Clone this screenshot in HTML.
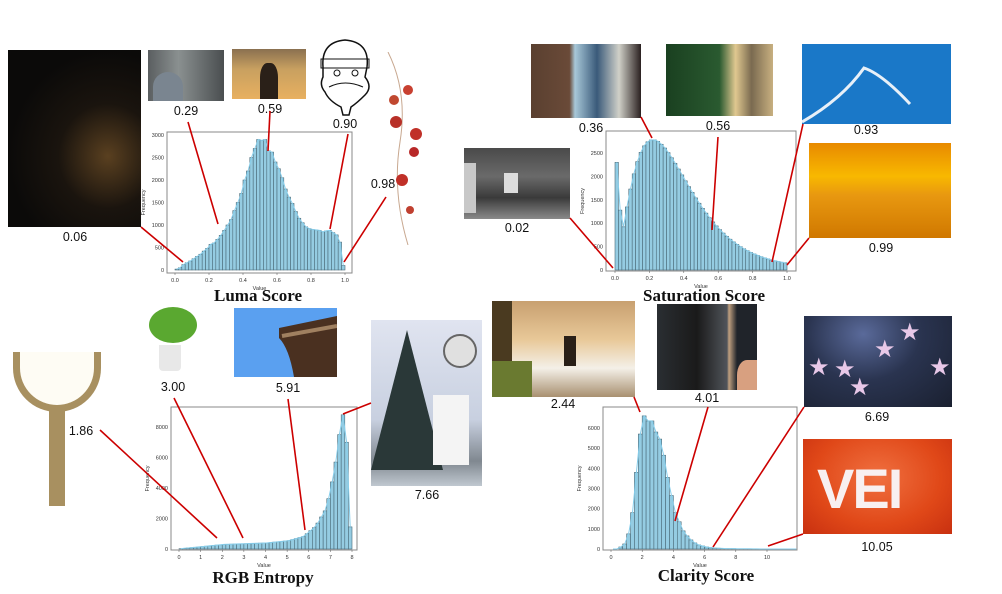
<!DOCTYPE html>
<html><head><meta charset="utf-8">
<style>
body{margin:0;background:#fff;width:1002px;height:594px;overflow:hidden;position:relative;font-family:"Liberation Sans",sans-serif}
.im{position:absolute;overflow:hidden}
.lb{position:absolute;font-size:12.5px;color:#111;transform:translateX(-50%)}
svg{position:absolute;left:0;top:0}
</style></head><body>
<div class="im" style="left:8px;top:50px;width:133px;height:177px;background:radial-gradient(ellipse at 75% 60%,#5a4020 0%,#1a140e 35%,#0b0a09 70%);"></div>
<div class="im" style="left:148px;top:50px;width:76px;height:51px;background:linear-gradient(90deg,#5a5e60,#8a9090 40%,#4a4e50);"><div style="position:absolute;left:5px;top:22px;width:30px;height:29px;border-radius:50% 50% 0 0;background:#7a8590"></div></div>
<div class="im" style="left:232px;top:49px;width:74px;height:50px;background:linear-gradient(180deg,#8a7050 0%,#c8a060 40%,#e8b060 100%);"><div style="position:absolute;left:28px;top:14px;width:18px;height:36px;background:#2a2018;border-radius:40% 40% 0 0"></div></div>
<div class="im" style="left:315px;top:37px;width:62px;height:80px;">
<svg width="62" height="80"><path d="M8 30 Q6 5 30 3 Q55 5 52 30 L50 40 Q58 50 50 58 Q42 66 36 70 L34 78 L28 78 L26 70 Q14 64 10 55 Q4 48 8 40 Z" fill="#fff" stroke="#111" stroke-width="1.5"/><rect x="6" y="22" width="48" height="9" fill="none" stroke="#111"/><circle cx="22" cy="36" r="3" fill="none" stroke="#111"/><circle cx="40" cy="36" r="3" fill="none" stroke="#111"/><path d="M14 50 Q30 42 48 50" fill="none" stroke="#111"/></svg></div>
<div class="im" style="left:378px;top:52px;width:54px;height:193px;">
<svg width="54" height="193"><path d="M10 0 Q30 40 22 90 Q14 140 30 193" fill="none" stroke="#c8a890" stroke-width="1"/><circle cx="30" cy="38" r="5" fill="#c84030"/><circle cx="16" cy="48" r="5" fill="#c04830"/><circle cx="18" cy="70" r="6" fill="#b83028"/><circle cx="38" cy="82" r="6" fill="#c03028"/><circle cx="36" cy="100" r="5" fill="#b82828"/><circle cx="24" cy="128" r="6" fill="#c03028"/><circle cx="32" cy="158" r="4" fill="#c04030"/></svg></div>
<div class="im" style="left:531px;top:44px;width:110px;height:74px;background:linear-gradient(90deg,#5a4030 0%,#6a4a38 35%,#a8c8d8 40%,#3a5a7a 60%,#d0d0c8 80%,#2a2020 100%);"></div>
<div class="im" style="left:666px;top:44px;width:107px;height:72px;background:linear-gradient(90deg,#1a4020 0%,#2a5a30 50%,#e0c890 65%,#7a6a50 80%,#c8b080 100%);"></div>
<div class="im" style="left:802px;top:44px;width:149px;height:80px;background:#1a78c8;"><svg width="149" height="80"><path d="M0 78 Q40 55 62 24 Q80 30 108 60" fill="none" stroke="#e8f0f8" stroke-width="3"/></svg></div>
<div class="im" style="left:809px;top:143px;width:142px;height:95px;background:linear-gradient(180deg,#e88a00 0%,#f8b800 35%,#e89810 55%,#d07800 100%);"></div>
<div class="im" style="left:464px;top:148px;width:106px;height:71px;background:linear-gradient(180deg,#4a4a4a 0%,#6a6a6a 40%,#3a3a3a 70%,#8a8a8a 100%);"><div style="position:absolute;left:0;top:15px;width:12px;height:50px;background:#c8c8c8"></div><div style="position:absolute;left:40px;top:25px;width:14px;height:20px;background:#ddd"></div></div>
<div class="im" style="left:143px;top:303px;width:59px;height:72px;"><div style="position:absolute;left:6px;top:4px;width:48px;height:36px;border-radius:50%;background:#5aa830"></div><div style="position:absolute;left:16px;top:42px;width:22px;height:26px;background:#e8e8e8;border-radius:0 0 4px 4px"></div></div>
<div class="im" style="left:234px;top:308px;width:103px;height:69px;background:#5aa0f0;"><svg width="103" height="69"><path d="M45 20 L103 8 L103 69 L60 69 Q55 40 45 30 Z" fill="#4a3020"/><path d="M48 28 L103 18" stroke="#a08060" stroke-width="4"/></svg></div>
<div class="im" style="left:371px;top:320px;width:111px;height:166px;background:linear-gradient(180deg,#e0e4f0 0%,#c8d0e0 60%,#808890 85%,#c0c8d0 100%);"><div style="position:absolute;left:0;top:10px;width:0;height:0;border-left:36px solid transparent;border-right:36px solid transparent;border-bottom:140px solid #2a3838"></div><div style="position:absolute;left:62px;top:75px;width:36px;height:70px;background:#f4f4f4"></div><div style="position:absolute;left:72px;top:14px;width:30px;height:30px;border-radius:50%;background:#e0e0e0;border:2px solid #666"></div></div>
<div class="im" style="left:13px;top:352px;width:88px;height:156px;"><div style="position:absolute;left:0;top:0;width:88px;height:60px;border:7px solid #a89060;border-top:none;border-radius:0 0 44px 44px;box-sizing:border-box;background:#fefcf4"></div><div style="position:absolute;left:36px;top:56px;width:16px;height:98px;background:#a89060"></div></div>
<div class="im" style="left:492px;top:301px;width:143px;height:96px;background:linear-gradient(180deg,#c8a070 0%,#e8c898 40%,#f4f0e8 70%,#a89070 100%);"><div style="position:absolute;left:0;top:0;width:20px;height:96px;background:#4a3a20"></div><div style="position:absolute;left:0;top:60px;width:40px;height:36px;background:#6a7a30"></div><div style="position:absolute;left:72px;top:35px;width:12px;height:30px;background:#2a2018"></div></div>
<div class="im" style="left:657px;top:304px;width:100px;height:86px;background:linear-gradient(90deg,#2a2e32 0%,#1a1a1a 40%,#50545a 70%,#c0a080 72%,#20242a 80%);"><div style="position:absolute;right:0;bottom:0;width:20px;height:30px;background:#d8a080;border-radius:50% 0 0 0"></div></div>
<div class="im" style="left:804px;top:316px;width:148px;height:91px;background:radial-gradient(ellipse at 40% 20%,#5a6a9a 0%,#2a3450 45%,#1a2030 100%);color:#e8c8e8;font-size:24px;line-height:24px">
<span style="position:absolute;left:70px;top:22px">★</span><span style="position:absolute;left:95px;top:5px">★</span><span style="position:absolute;left:4px;top:40px">★</span><span style="position:absolute;left:30px;top:42px">★</span><span style="position:absolute;left:45px;top:60px">★</span><span style="position:absolute;left:125px;top:40px">★</span></div>
<div class="im" style="left:803px;top:439px;width:149px;height:95px;background:radial-gradient(ellipse at 50% 40%,#f07040 0%,#e04818 60%,#c83010 100%);"><div style="position:absolute;left:14px;top:22px;font:bold 56px 'Liberation Sans',sans-serif;color:#f8f0f0;letter-spacing:-2px;line-height:56px">VEI</div></div>

<div class="lb" style="left:75px;top:230px">0.06</div>
<div class="lb" style="left:186px;top:104px">0.29</div>
<div class="lb" style="left:270px;top:102px">0.59</div>
<div class="lb" style="left:345px;top:117px">0.90</div>
<div class="lb" style="left:383px;top:177px">0.98</div>
<div class="lb" style="left:591px;top:121px">0.36</div>
<div class="lb" style="left:718px;top:119px">0.56</div>
<div class="lb" style="left:866px;top:123px">0.93</div>
<div class="lb" style="left:881px;top:241px">0.99</div>
<div class="lb" style="left:517px;top:221px">0.02</div>
<div class="lb" style="left:173px;top:380px">3.00</div>
<div class="lb" style="left:288px;top:381px">5.91</div>
<div class="lb" style="left:427px;top:488px">7.66</div>
<div class="lb" style="left:81px;top:424px">1.86</div>
<div class="lb" style="left:563px;top:397px">2.44</div>
<div class="lb" style="left:707px;top:391px">4.01</div>
<div class="lb" style="left:877px;top:410px">6.69</div>
<div class="lb" style="left:877px;top:540px">10.05</div>

<svg id="s" width="1002" height="594"></svg>
<script>
var S='';
function hist(o){
 var x0=o.x0,x1=o.x1,y0=o.y0,ymax=o.ymax,vmax=o.vmax;
 S+='<rect x="'+o.fx+'" y="'+o.fy+'" width="'+o.fw+'" height="'+o.fh+'" fill="#fff" stroke="#888" stroke-width="1"/>';
 var n=o.data.length,bw=(o.bx1-o.bx0)/n;
 var pts=[];
 for(var i=0;i<n;i++){var h=o.data[i]/vmax*(y0-ymax);var bx=o.bx0+i*bw;
  S+='<rect x="'+bx.toFixed(2)+'" y="'+(y0-h).toFixed(2)+'" width="'+bw.toFixed(2)+'" height="'+h.toFixed(2)+'" fill="#95cce2" stroke="#4a6a78" stroke-width="0.6"/>';
  pts.push((bx+bw/2).toFixed(1)+','+(y0-h).toFixed(1));}
 S+='<polyline points="'+pts.join(' ')+'" fill="none" stroke="#87ceeb" stroke-width="1"/>';
 o.xt.forEach(function(t,i){var x=x0+(x1-x0)*i/(o.xt.length-1);S+='<line x1="'+x+'" y1="'+(o.fy+o.fh)+'" x2="'+x+'" y2="'+(o.fy+o.fh+2)+'" stroke="#555" stroke-width=".5"/><text x="'+x+'" y="'+(o.fy+o.fh+9)+'" font-size="5.5" text-anchor="middle" fill="#333">'+t+'</text>';});
 o.yt.forEach(function(t){var y=y0-t/vmax*(y0-ymax);S+='<text x="'+(o.fx-3)+'" y="'+(y+2)+'" font-size="5.5" text-anchor="end" fill="#333">'+t+'</text>';});
 S+='<text x="'+((o.fx*2+o.fw)/2)+'" y="'+(o.fy+o.fh+17)+'" font-size="5.5" text-anchor="middle" fill="#333">Value</text>';
 var cy=o.fy+o.fh/2;S+='<text x="'+(o.fx-22)+'" y="'+cy+'" font-size="5.5" text-anchor="middle" fill="#333" transform="rotate(-90 '+(o.fx-22)+' '+cy+')">Frequency</text>';
 S+='<text x="'+o.tx+'" y="'+o.ty+'" font-family="Liberation Serif,serif" font-weight="bold" font-size="17" text-anchor="middle" fill="#111">'+o.title+'</text>';
}
function gen(n,f){var a=[];for(var i=0;i<n;i++)a.push(f((i+0.5)/n));return a;}
var ld=[20,50,120,160,200,250,300,350,420,480,570,600,680,770,880,1000,1120,1320,1500,1700,2000,2200,2500,2700,2900,2880,2900,2650,2620,2400,2250,2050,1800,1620,1480,1300,1150,1050,960,920,900,890,880,850,870,880,830,780,620,100];
hist({fx:167,fy:132,fw:185,fh:141,x0:175,x1:345,y0:270,ymax:135,vmax:3000,bx0:175,bx1:345,data:ld,
 xt:['0.0','0.2','0.4','0.6','0.8','1.0'],yt:[0,500,1000,1500,2000,2500,3000],title:'Luma Score',tx:258,ty:301});
var sd=gen(50,function(t){return 2800*Math.pow(t/0.22,1.6)*Math.exp(-1.6*(t/0.22-1))*0.98+40;});sd[0]=2300;sd[1]=Math.max(sd[1],1280);
hist({fx:606,fy:131,fw:190,fh:140,x0:615,x1:787,y0:270,ymax:153,vmax:2500,bx0:615,bx1:787,data:sd,
 xt:['0.0','0.2','0.4','0.6','0.8','1.0'],yt:[0,500,1000,1500,2000,2500],title:'Saturation Score',tx:704,ty:301});
var rd=[];for(var i=0;i<35;i++){var v=i*8/48;rd.push(v<2?20+v*140:(v<4?300+(v-2)*50:(v<5?400+(v-4)*150:550+(v-5)*400)));}
rd=rd.concat([1000,1200,1400,1700,2100,2500,3300,4400,5700,7500,8800,7000,1450]);
hist({fx:171,fy:407,fw:186,fh:143,x0:179,x1:352,y0:549,ymax:427,vmax:8000,bx0:179,bx1:352,data:rd,
 xt:['0','1','2','3','4','5','6','7','8'],yt:[0,2000,4000,6000,8000],title:'RGB Entropy',tx:263,ty:583});
var cd=[0,0,100,250,750,1800,3800,5700,6600,6350,6350,5800,5450,4650,3550,2650,1800,1350,900,650,450,300,200,150,100,70,50,40,30,20,20,20,10,10,10,10,5,5,0,0,0,0,0,0,0,0,0,0];
hist({fx:603,fy:407,fw:194,fh:143,x0:611,x1:767,y0:549,ymax:428,vmax:6000,bx0:611,bx1:798.2,data:cd,
 xt:['0','2','4','6','8','10'],yt:[0,1000,2000,3000,4000,5000,6000],title:'Clarity Score',tx:706,ty:581});
var L=[[141,227,183,262],[188,122,218,224],[270,111,268,151],[348,134,330,229],[386,197,344,262],
[570,218,613,268],[641,117,652,138],[718,137,712,230],[803,124,772,262],[809,238,787,265],
[100,430,217,538],[174,398,243,538],[288,399,305,530],[371,403,343,414],
[634,397,640,412],[708,407,675,521],[804,407,713,547],[803,534,768,546]];
L.forEach(function(l){S+='<line x1="'+l[0]+'" y1="'+l[1]+'" x2="'+l[2]+'" y2="'+l[3]+'" stroke="#cc0000" stroke-width="1.6"/>';});
document.getElementById('s').innerHTML=S;
</script>
</body></html>
